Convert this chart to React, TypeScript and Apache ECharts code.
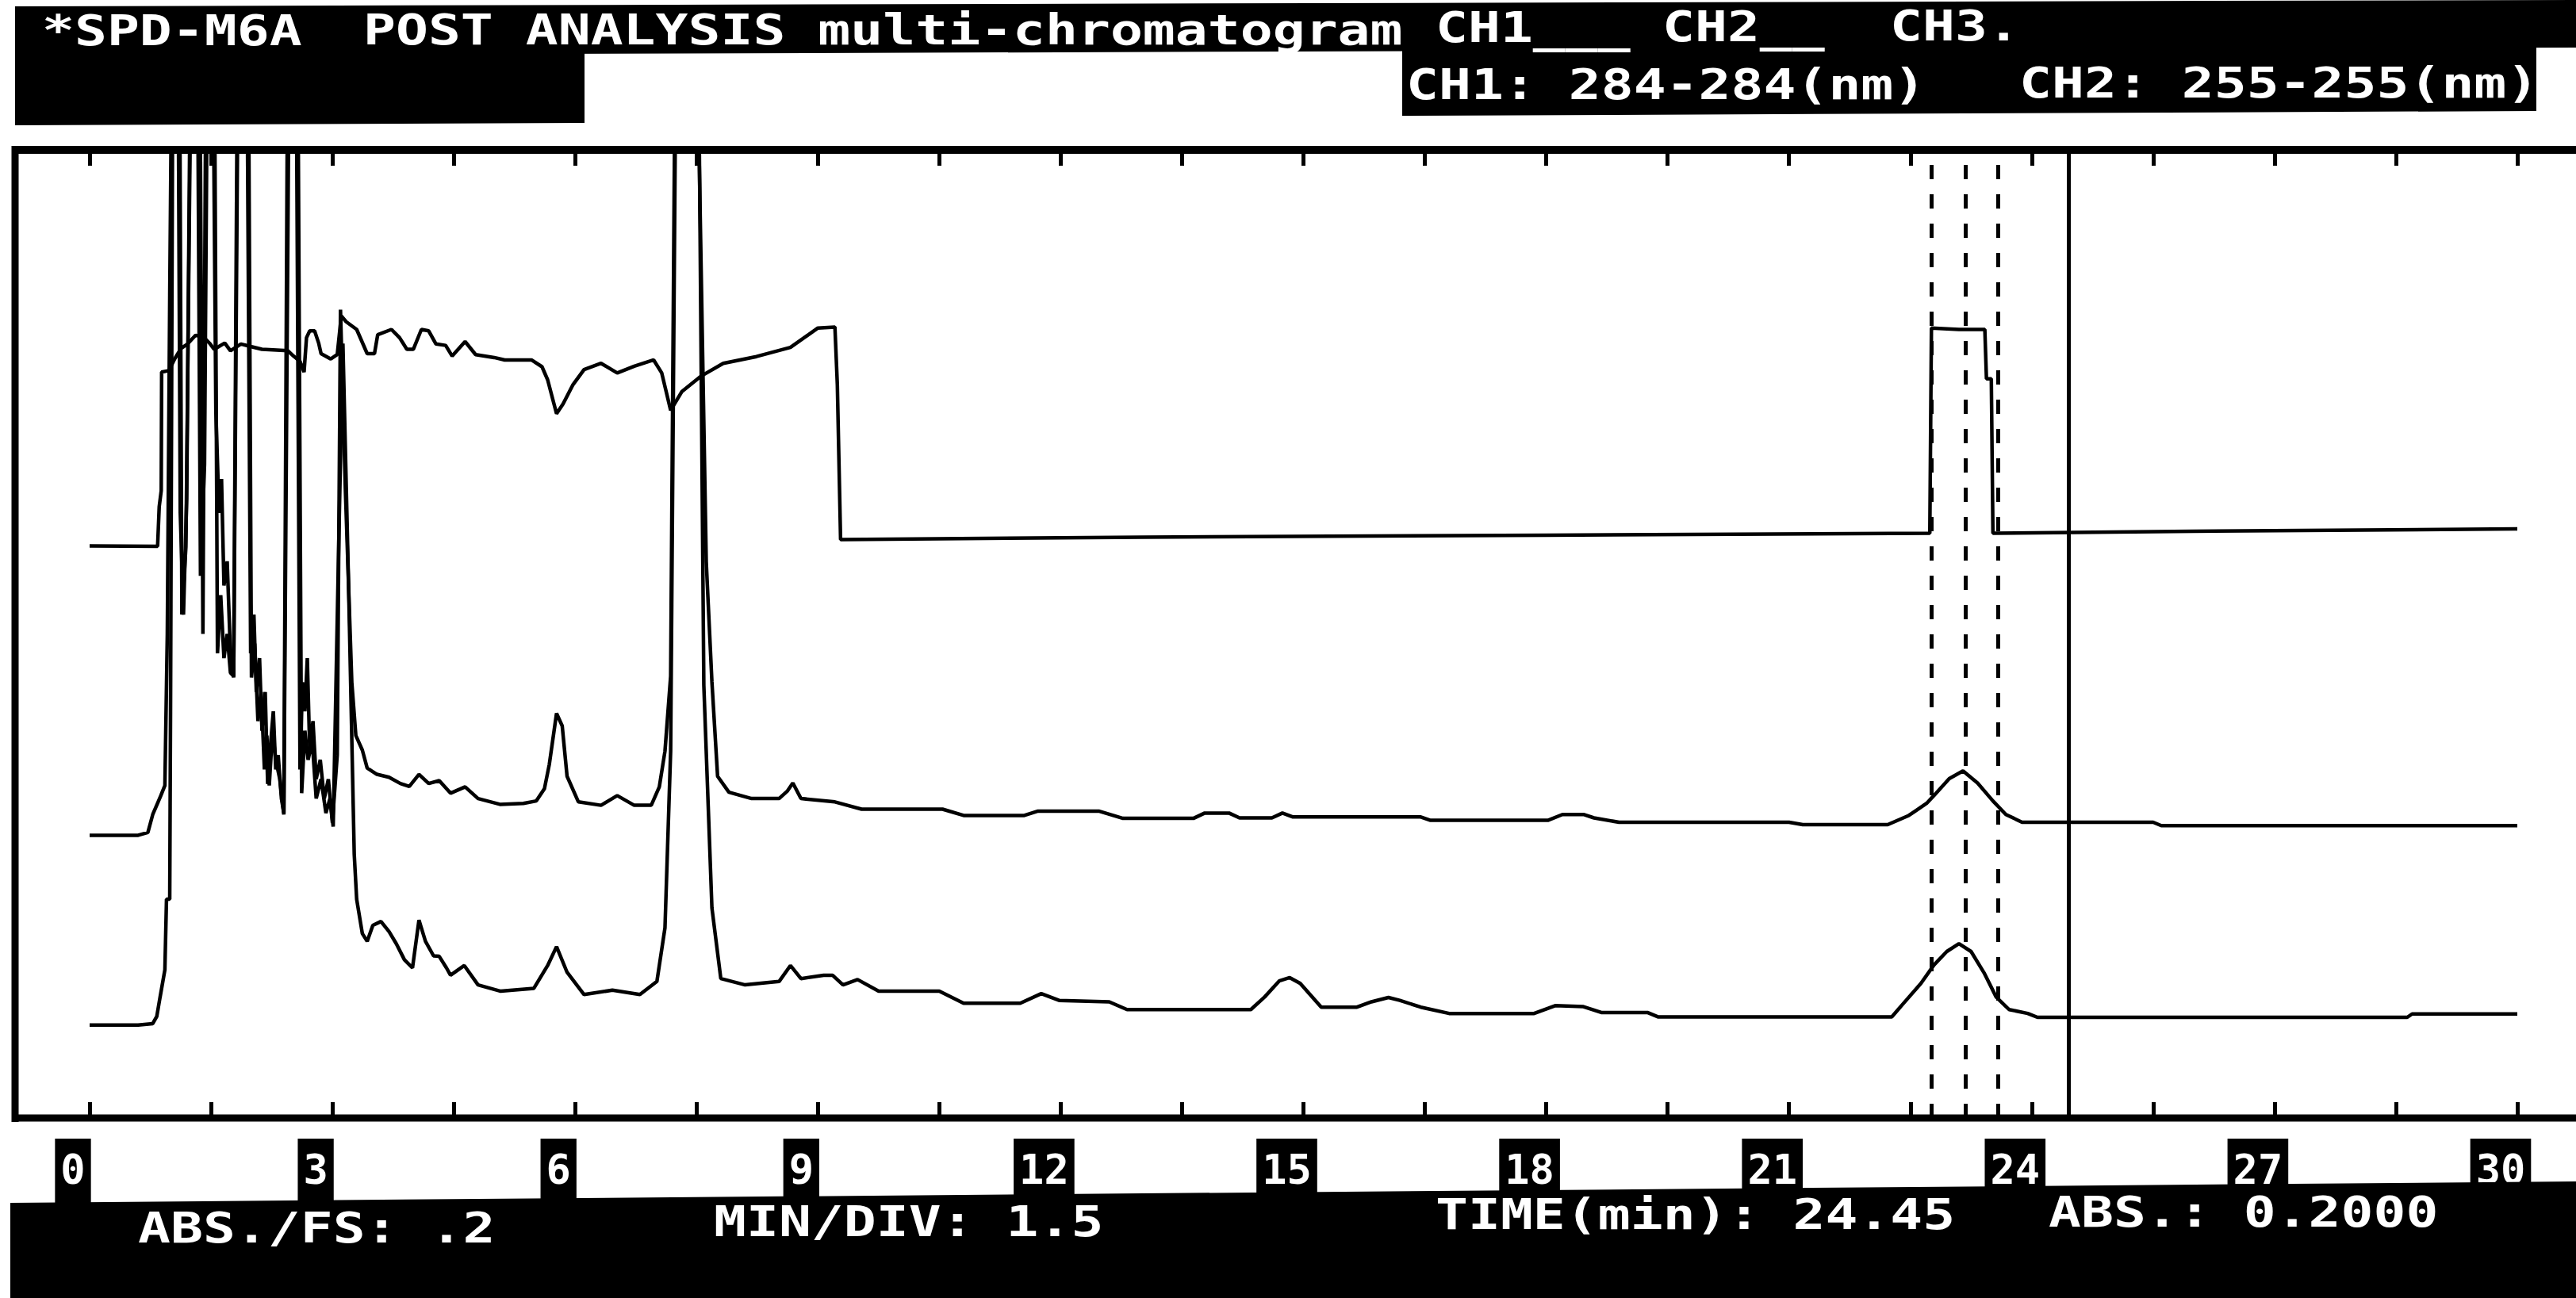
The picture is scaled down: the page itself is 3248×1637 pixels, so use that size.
import React, { useEffect, useRef } from "react";
import * as echarts from "echarts";

const W = 3248;
const H = 1637;

// ---- data (minutes, absorbance offset in mAU; full scale 0.2 AU = 200) ----
const ch3Trace: [number, number][] = [
  [0, 118.2], [0.84, 118.1], [0.86, 126.3], [0.885, 129.6], [0.89, 154.1], [0.98, 154.4], [1.05, 156.8],
  [1.13, 159.0], [1.21, 159.9], [1.31, 161.7], [1.41, 161.3], [1.49, 159.9], [1.54, 158.8], [1.67, 160.1],
  [1.74, 158.5], [1.87, 159.9], [1.96, 159.5], [2.13, 158.8], [2.45, 158.5], [2.52, 157.4], [2.6, 156.3],
  [2.65, 154.1], [2.68, 161.2], [2.72, 162.6], [2.78, 162.6], [2.83, 160.1], [2.86, 157.9], [2.98, 156.8],
  [3.06, 157.7], [3.11, 165.7], [3.17, 164.5], [3.3, 162.9], [3.43, 157.9], [3.52, 157.9], [3.56, 161.8],
  [3.73, 162.9], [3.83, 161.2], [3.92, 158.8], [4.0, 158.8], [4.1, 162.9], [4.19, 162.6], [4.28, 159.9],
  [4.4, 159.6], [4.48, 157.4], [4.64, 160.4], [4.77, 157.7], [5.0, 157.1], [5.13, 156.6], [5.46, 156.6],
  [5.59, 155.2], [5.66, 152.5], [5.77, 145.5], [5.85, 147.5], [5.97, 151.4], [6.11, 154.6], [6.32, 155.9],
  [6.52, 153.9], [6.73, 155.3], [6.97, 156.6], [7.07, 153.9], [7.18, 146.2], [7.32, 150.1], [7.56, 153.3],
  [7.83, 155.9], [8.24, 157.3], [8.66, 159.2], [9.0, 163.2], [9.21, 163.4], [9.24, 151.4], [9.28, 119.5],
  [13, 120.0], [18, 120.4], [22.74, 120.8], [22.76, 163.2], [23.1, 162.9], [23.42, 162.9], [23.44, 152.7],
  [23.5, 152.7], [23.52, 120.8], [26, 121.2], [30, 121.7],
];

const ch2Trace: [number, number][] = [
  [0, 58.4], [0.6, 58.4], [0.72, 59.0], [0.78, 62.7], [0.88, 66.6], [0.93, 68.7], [0.96, 100], [0.99, 170],
  [1.02, 230], [1.09, 230], [1.12, 125], [1.16, 104], [1.2, 128], [1.25, 230], [1.33, 230], [1.37, 112],
  [1.42, 135], [1.46, 230], [1.52, 230], [1.56, 146], [1.6, 125], [1.63, 132], [1.66, 110], [1.7, 115],
  [1.74, 96], [1.78, 91], [1.84, 230], [1.94, 230], [1.99, 96], [2.03, 104], [2.06, 88], [2.1, 95],
  [2.13, 80], [2.17, 88], [2.2, 69], [2.24, 78], [2.27, 84], [2.3, 72], [2.33, 75], [2.37, 66], [2.4, 63],
  [2.45, 230], [2.55, 230], [2.6, 72], [2.63, 90], [2.66, 84], [2.69, 95], [2.72, 76], [2.76, 82], [2.8, 70],
  [2.85, 74], [2.9, 66], [2.95, 70], [3.0, 61], [3.06, 75], [3.1, 167], [3.16, 130], [3.24, 90], [3.29, 79],
  [3.37, 76], [3.43, 72.3], [3.55, 71], [3.7, 70.4], [3.84, 69.1], [3.95, 68.5], [4.07, 71.0], [4.19, 69.1],
  [4.32, 69.7], [4.46, 67.1], [4.64, 68.4], [4.8, 66.0], [5.07, 64.8], [5.36, 65.0], [5.52, 65.5], [5.62, 68],
  [5.68, 73], [5.77, 83.6], [5.84, 81.0], [5.9, 70.6], [6.04, 65.3], [6.32, 64.6], [6.52, 66.6], [6.73, 64.6],
  [6.94, 64.6], [7.04, 68.4], [7.11, 75.8], [7.18, 91.3], [7.24, 230], [7.5, 230], [7.62, 114.9], [7.69, 90.1],
  [7.76, 70.6], [7.9, 67.3], [8.18, 66.0], [8.52, 66.0], [8.62, 67.5], [8.69, 69.2], [8.79, 66.0], [9.21, 65.3],
  [9.54, 63.8], [10.54, 63.8], [10.8, 62.5], [11.55, 62.5], [11.72, 63.4], [12.47, 63.4], [12.77, 61.9],
  [13.64, 61.9], [13.78, 63.0], [14.08, 63.0], [14.21, 62.0], [14.61, 62.0], [14.74, 63.0], [14.87, 62.2],
  [16.45, 62.2], [16.57, 61.5], [18.02, 61.5], [18.2, 62.7], [18.46, 62.7], [18.59, 62.0], [18.9, 61.1],
  [21.0, 61.1], [21.17, 60.6], [22.22, 60.6], [22.48, 62.5], [22.55, 63.3], [22.7, 65.0], [22.79, 66.6],
  [22.98, 70.1], [23.15, 71.7], [23.33, 69.2], [23.52, 65.5], [23.68, 62.7], [23.88, 61.1], [25.5, 61.1],
  [25.6, 60.4], [30, 60.4],
];

const ch1Trace: [number, number][] = [
  [0, 19.2], [0.6, 19.2], [0.78, 19.5], [0.83, 21], [0.87, 24.9], [0.93, 30.6], [0.95, 45.2], [0.99, 45.2],
  [1.0, 84], [1.03, 230], [1.11, 230], [1.14, 104], [1.19, 118], [1.26, 230], [1.36, 230], [1.4, 100],
  [1.44, 230], [1.54, 230], [1.58, 96], [1.62, 108], [1.66, 95], [1.7, 100], [1.74, 92], [1.78, 91.3],
  [1.83, 230], [1.96, 230], [2.0, 91], [2.04, 98], [2.08, 82], [2.12, 88], [2.16, 72], [2.19, 79],
  [2.22, 68.7], [2.26, 80], [2.3, 74], [2.35, 70], [2.4, 62.7], [2.47, 230], [2.57, 230], [2.62, 67.1],
  [2.66, 80], [2.7, 74], [2.75, 78], [2.8, 66], [2.86, 70], [2.92, 63], [2.97, 66], [3.01, 60.2], [3.08, 120],
  [3.13, 160], [3.2, 110], [3.27, 54.5], [3.3, 45.2], [3.37, 38.1], [3.43, 36.5], [3.5, 39.8], [3.6, 40.6],
  [3.7, 38.5], [3.79, 36.0], [3.89, 32.7], [3.99, 31.0], [4.07, 40.9], [4.15, 36.5], [4.25, 33.5], [4.32, 33.4],
  [4.41, 31.0], [4.46, 29.5], [4.63, 31.5], [4.8, 27.5], [5.08, 26.2], [5.49, 26.8], [5.66, 31.5], [5.77, 35.4],
  [5.9, 30.1], [6.11, 25.5], [6.46, 26.4], [6.8, 25.5], [7.01, 28.2], [7.11, 39.3], [7.18, 75.8], [7.25, 230],
  [7.52, 230], [7.59, 89.4], [7.69, 43.4], [7.8, 28.8], [8.1, 27.5], [8.52, 28.2], [8.66, 31.5], [8.79, 28.8],
  [9.07, 29.5], [9.18, 29.5], [9.31, 27.5], [9.49, 28.6], [9.75, 26.2], [10.5, 26.2], [10.8, 23.7], [11.5, 23.7],
  [11.76, 25.7], [11.98, 24.3], [12.6, 24.0], [12.82, 22.4], [14.35, 22.4], [14.52, 25.0], [14.7, 28.3],
  [14.83, 29.0], [14.96, 27.8], [15.22, 22.9], [15.66, 22.9], [15.84, 24.0], [16.05, 24.9], [16.19, 24.3],
  [16.45, 22.9], [16.8, 21.6], [17.85, 21.6], [18.11, 23.2], [18.46, 23.0], [18.68, 21.8], [19.25, 21.8],
  [19.38, 20.9], [22.27, 20.9], [22.4, 23.4], [22.63, 27.8], [22.79, 31.6], [22.95, 34.4], [23.1, 36.0],
  [23.25, 34.4], [23.41, 30.0], [23.56, 25.0], [23.72, 22.4], [23.95, 21.6], [24.07, 20.8], [28.64, 20.8],
  [28.7, 21.5], [30, 21.5],
];

const markerTimes = [22.76, 23.18, 23.58];
const cursorTime = 24.46;

const timeMin = 0;
const timeMax = 30;
const tickStep = 1.5;
const labelStep = 3;
const absMax = 200;

const headerLine1 = ["*SPD-M6A", "POST ANALYSIS multi-chromatogram", "CH1___", "CH2__", "CH3."];
const headerLine2 = ["CH1: 284-284(nm)", "CH2: 255-255(nm)"];
const footerTexts = ["ABS./FS: .2", "MIN/DIV: 1.5", "TIME(min): 24.45", "ABS.: 0.2000"];

const FONT = '"DejaVu Sans Mono", "Liberation Mono", monospace';

function txt(text: string, x: number, y: number, size = 54, sx = 1.26) {
  return {
    type: "text",
    x,
    y,
    scaleX: sx,
    z: 60,
    silent: true,
    style: {
      text,
      fill: "#fff",
      fontFamily: FONT,
      fontWeight: "bold",
      fontSize: size,
      align: "left",
      verticalAlign: "middle",
    },
  };
}

function buildOption() {
  const lineSeries = (name: string, data: [number, number][]) => ({
    type: "line",
    name,
    data,
    xAxisIndex: 0,
    yAxisIndex: 0,
    showSymbol: false,
    symbol: "none",
    clip: true,
    silent: true,
    lineStyle: { color: "#000", width: 4.5 },
    itemStyle: { color: "#000" },
    emphasis: { disabled: true },
  });

  const ch2 = {
    ...lineSeries("CH2", ch2Trace),
    markLine: {
      symbol: ["none", "none"],
      silent: true,
      label: { show: false },
      emphasis: { disabled: true },
      data: [
        ...markerTimes.map((t) => ({ xAxis: t, lineStyle: { type: [18, 19], width: 5, color: "#000" } })),
        { xAxis: cursorTime, lineStyle: { type: "solid", width: 5, color: "#000" } },
      ],
    },
  };

  const tickAxis = (position: string) => ({
    type: "value",
    gridIndex: 0,
    position,
    min: timeMin,
    max: timeMax,
    interval: tickStep,
    axisLine: { show: false },
    axisTick: { show: true, inside: true, length: 20, lineStyle: { color: "#000", width: 5 } },
    axisLabel: { show: false },
    splitLine: { show: false },
  });

  return {
    animation: false,
    backgroundColor: "#fff",
    grid: [
      { left: 113, width: 3061, top: 189, height: 1221, outerBoundsMode: "none", containLabel: false },
      { left: 92, width: 3061, top: 1396, height: 40, outerBoundsMode: "none", containLabel: false },
    ],
    xAxis: [
      tickAxis("bottom"),
      tickAxis("top"),
      {
        type: "value",
        gridIndex: 1,
        position: "bottom",
        min: timeMin,
        max: timeMax,
        interval: labelStep,
        axisLine: { show: false },
        axisTick: { show: false },
        splitLine: { show: false },
        axisLabel: {
          show: true,
          margin: 0,
          color: "#fff",
          backgroundColor: "#000",
          fontFamily: FONT,
          fontWeight: "bold",
          fontSize: 52,
          lineHeight: 46,
          padding: [16, 7, 20, 7],
          showMinLabel: true,
          showMaxLabel: true,
        },
      },
    ],
    yAxis: [
      { type: "value", gridIndex: 0, min: 0, max: absMax, show: false },
      { type: "value", gridIndex: 1, min: 0, max: 1, show: false },
    ],
    series: [
      lineSeries("CH3", ch3Trace),
      ch2,
      lineSeries("CH1", ch1Trace),
      { type: "line", xAxisIndex: 2, yAxisIndex: 1, data: [], silent: true },
    ],
    graphic: [
      // frame
      { type: "line", z: 1, silent: true, shape: { x1: 19, y1: 189, x2: 3248, y2: 189 }, style: { stroke: "#000", lineWidth: 10 } },
      { type: "line", z: 1, silent: true, shape: { x1: 19, y1: 1410, x2: 3248, y2: 1410 }, style: { stroke: "#000", lineWidth: 9 } },
      { type: "line", z: 1, silent: true, shape: { x1: 19, y1: 184, x2: 19, y2: 1415 }, style: { stroke: "#000", lineWidth: 9 } },
      // header bars
      { type: "polygon", z: 50, silent: true, shape: { points: [[19, 8], [3248, 0], [3248, 60], [19, 70]] }, style: { fill: "#000" } },
      { type: "polygon", z: 50, silent: true, shape: { points: [[19, 40], [737, 40], [737, 155], [19, 158]] }, style: { fill: "#000" } },
      { type: "polygon", z: 50, silent: true, shape: { points: [[1768, 50], [3198, 45], [3198, 140], [1768, 146]] }, style: { fill: "#000" } },
      // footer bar
      { type: "polygon", z: 50, silent: true, shape: { points: [[13, 1517], [3248, 1490], [3248, 1637], [13, 1637]] }, style: { fill: "#000" } },
      // header texts
      txt(headerLine1[0], 53, 38),
      txt(headerLine1[1], 458, 37),
      txt(headerLine1[2], 1810, 34),
      txt(headerLine1[3], 2096, 33),
      txt(headerLine1[4], 2383, 32),
      txt(headerLine2[0], 1773, 106),
      txt(headerLine2[1], 2546, 104),
      // footer texts
      txt(footerTexts[0], 174, 1548),
      txt(footerTexts[1], 900, 1540),
      txt(footerTexts[2], 1810, 1531),
      txt(footerTexts[3], 2583, 1528),
    ],
  };
}

export default function App() {
  const ref = useRef<HTMLDivElement>(null);
  useEffect(() => {
    if (!ref.current) return;
    const chart = echarts.init(ref.current, undefined, { renderer: "svg", width: W, height: H });
    chart.setOption(buildOption() as any);
    return () => chart.dispose();
  }, []);
  return (
    <div
      ref={ref}
      style={{ position: "absolute", left: 0, top: 0, width: W, height: H, background: "#fff" }}
    />
  );
}
